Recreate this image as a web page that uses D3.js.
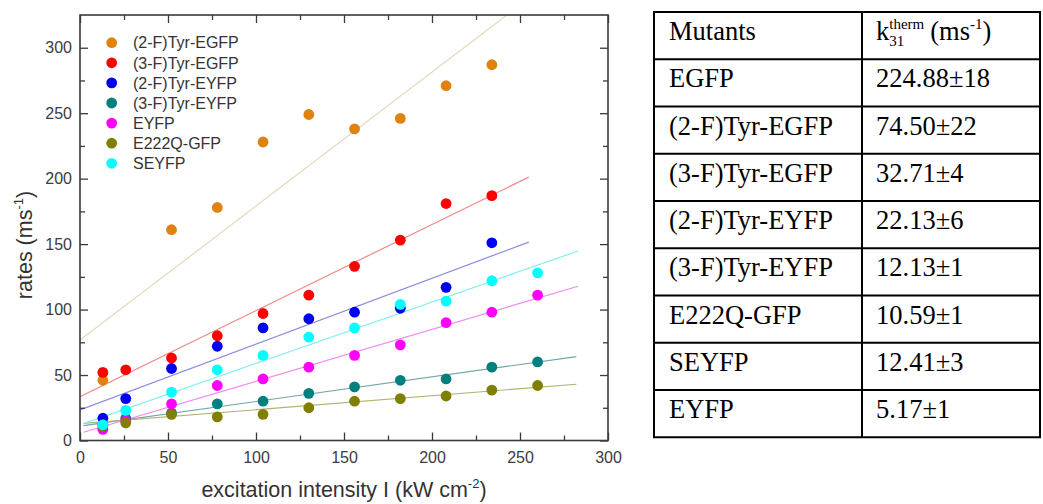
<!DOCTYPE html>
<html><head><meta charset="utf-8">
<script src="https://cdn.jsdelivr.net/npm/d3@7"></script>
<style>body{margin:0;background:#fff} svg{display:block}</style>
</head><body><svg id="c" width="1043" height="504"></svg>
<script>
// ---------- data ----------
const xValues = [13, 26, 52, 78, 104, 130, 156, 182, 208, 234, 260];
const seriesNames = ["(2-F)Tyr-EGFP", "(3-F)Tyr-EGFP", "(2-F)Tyr-EYFP", "(3-F)Tyr-EYFP", "EYFP", "E222Q-GFP", "SEYFP"];
const tyr2EGFP = [46, null, 161, 178, 228, 249, 238, 246, 271, 287, null];
const tyr3EGFP = [52, 54, 63, 80, 97, 111, 133, 153, 181, 187, null];
const tyr2EYFP = [17, 32, 55, 72, 86, 93, 98, 101, 117, 151, null];
const tyr3EYFP = [12, 17, 21, 28, 30, 36, 41, 46, 47, 56, 60];
const eyfp     = [8.5, 15, 28, 42, 47, 56, 65, 73, 90, 98, 111];
const e222q    = [11, 13.5, 20, 18, 20, 25, 30, 32, 34, 38.5, 42];
const seyfp    = [12, 23, 37, 54, 65, 79, 86, 104, 106.5, 122, 128];
const seriesValues = [tyr2EGFP, tyr3EGFP, tyr2EYFP, tyr3EYFP, eyfp, e222q, seyfp];
// linear fits (intercept, slope, x-range)
const fitIntercept = [76.7, 33.4, 23.3, 11, 5.5, 12.8, 12];
const fitSlope     = [1.0235, 0.658, 0.503, 0.188, 0.397, 0.107, 0.469];
const fitStart     = [0, 0, 0, 2, 2, 2, 2];
const fitEnd       = [255, 255, 255, 282, 283, 282, 283];
const xTicks = [0, 50, 100, 150, 200, 250, 300];
const xMinor = [25, 75, 125, 175, 225, 275];
const yTicks = [0, 50, 100, 150, 200, 250, 300];
const yMinor = [25, 75, 125, 175, 225, 275];
// table
const tableHeader = ["Mutants", "k31therm"];
const mutants = ["EGFP", "(2-F)Tyr-EGFP", "(3-F)Tyr-EGFP", "(2-F)Tyr-EYFP", "(3-F)Tyr-EYFP", "E222Q-GFP", "SEYFP", "EYFP"];
const k31 = ["224.88±18", "74.50±22", "32.71±4", "22.13±6", "12.13±1", "10.59±1", "12.41±3", "5.17±1"];

// ---------- style ----------
const pointColors = ["#e0820f", "#ff0000", "#0000f2", "#007f7f", "#ff00ff", "#7f7f00", "#00ffff"];
const lineColors  = ["#ead6bc", "#f08a8a", "#8a8ae2", "#72a6a6", "#f08af0", "#b2b272", "#84eef2"];

const svg = d3.select("#c");
const W = 1043, H = 504;
svg.append("rect").attr("width", W).attr("height", H).attr("fill", "#fff");

const L = 80, R = 608, T = 15, B = 440.5;
const x = d3.scaleLinear().domain([0, 300]).range([L, R]);
const y = d3.scaleLinear().domain([0, 325]).range([B, T]);

svg.append("clipPath").attr("id", "clip").append("rect")
  .attr("x", L).attr("y", T).attr("width", R - L).attr("height", B - T);

// fit lines
const plot = svg.append("g").attr("clip-path", "url(#clip)");
seriesNames.forEach((n, i) => {
  plot.append("line")
    .attr("x1", x(fitStart[i])).attr("y1", y(fitIntercept[i] + fitSlope[i] * fitStart[i]))
    .attr("x2", x(fitEnd[i])).attr("y2", y(fitIntercept[i] + fitSlope[i] * fitEnd[i]))
    .attr("stroke", lineColors[i]).attr("stroke-width", 1.2);
});
// points
seriesNames.forEach((n, i) => {
  const pts = xValues.map((xv, j) => ({x: xv, y: seriesValues[i][j]})).filter(d => d.y != null);
  svg.append("g").selectAll("circle").data(pts).join("circle")
    .attr("cx", d => x(d.x)).attr("cy", d => y(d.y)).attr("r", 5.4)
    .attr("fill", pointColors[i]);
});

// axes
const axColor = "#3a3a3a";
function style(g) {
  g.select(".domain").remove();
  g.selectAll("line").attr("stroke", axColor).attr("stroke-width", 1.3);
  g.selectAll("text").attr("fill", "#3c3c3c").attr("font-family", "Liberation Sans, Arial, sans-serif").attr("font-size", 16);
}
svg.append("g").attr("transform", `translate(0,${B})`)
  .call(d3.axisBottom(x).tickValues(xTicks).tickSizeInner(-8).tickSizeOuter(0).tickPadding(11)).call(style);
svg.append("g").attr("transform", `translate(0,${B})`)
  .call(d3.axisBottom(x).tickValues(xMinor).tickSizeInner(-5).tickSizeOuter(0).tickFormat("")).call(style);
svg.append("g").attr("transform", `translate(0,${T})`)
  .call(d3.axisTop(x).tickValues(xTicks).tickSizeInner(-8).tickSizeOuter(0).tickFormat("")).call(style);
svg.append("g").attr("transform", `translate(0,${T})`)
  .call(d3.axisTop(x).tickValues(xMinor).tickSizeInner(-5).tickSizeOuter(0).tickFormat("")).call(style);
svg.append("g").attr("transform", `translate(${L},0)`)
  .call(d3.axisLeft(y).tickValues(yTicks).tickSizeInner(-8).tickSizeOuter(0).tickPadding(8)).call(style);
svg.append("g").attr("transform", `translate(${L},0)`)
  .call(d3.axisLeft(y).tickValues(yMinor).tickSizeInner(-5).tickSizeOuter(0).tickFormat("")).call(style);
svg.append("g").attr("transform", `translate(${R},0)`)
  .call(d3.axisRight(y).tickValues(yTicks).tickSizeInner(-8).tickSizeOuter(0).tickFormat("")).call(style);
svg.append("g").attr("transform", `translate(${R},0)`)
  .call(d3.axisRight(y).tickValues(yMinor).tickSizeInner(-5).tickSizeOuter(0).tickFormat("")).call(style);

svg.append("rect").attr("x", L).attr("y", T).attr("width", R - L).attr("height", B - T)
  .attr("fill", "none").attr("stroke", axColor).attr("stroke-width", 1.6);

// axis titles
const sans = "Liberation Sans, Arial, sans-serif";
const xt = svg.append("text").attr("x", (L + R) / 2).attr("y", 497).attr("text-anchor", "middle")
  .attr("font-family", sans).attr("font-size", 21.5).attr("fill", "#333");
xt.append("tspan").text("excitation intensity I (kW cm");
xt.append("tspan").attr("dy", -9).attr("font-size", 13).text("-2");
xt.append("tspan").attr("dy", 9).text(")");

const yt = svg.append("text").attr("transform", "translate(32,245) rotate(-90)").attr("text-anchor", "middle")
  .attr("font-family", sans).attr("font-size", 21.5).attr("fill", "#333");
yt.append("tspan").text("rates (ms");
yt.append("tspan").attr("dy", -9).attr("font-size", 13).text("-1");
yt.append("tspan").attr("dy", 9).text(")");

// legend
const lg = svg.append("g");
seriesNames.forEach((n, i) => {
  const cy = 42.7 + i * 20.1;
  lg.append("circle").attr("cx", 111.7).attr("cy", cy).attr("r", 5.4).attr("fill", pointColors[i]);
  lg.append("text").attr("x", 133).attr("y", cy).attr("dy", "0.36em")
    .attr("font-family", sans).attr("font-size", 16).attr("fill", "#333").text(n);
});

// ---------- table ----------
const serif = "Liberation Serif, Times New Roman, serif";
const tx0 = 654, tx1 = 862, tx2 = 1040, ty0 = 12, rowH = 47.25;
const nRows = mutants.length + 1;
const tg = svg.append("g");
const rowsY = d3.range(nRows + 1).map(i => ty0 + i * rowH);
tg.selectAll("line.h").data(rowsY).join("line")
  .attr("x1", tx0 - 1).attr("x2", tx2 + 1).attr("y1", d => d).attr("y2", d => d)
  .attr("stroke", "#000").attr("stroke-width", 2);
tg.selectAll("line.v").data([tx0, tx1, tx2]).join("line")
  .attr("x1", d => d).attr("x2", d => d).attr("y1", ty0).attr("y2", rowsY[nRows])
  .attr("stroke", "#000").attr("stroke-width", 2);
const fs = 26.5;
function cell(txt, xx, yy) {
  return tg.append("text").attr("x", xx).attr("y", yy).attr("font-family", serif)
    .attr("font-size", fs).attr("fill", "#000").text(txt);
}
cell(tableHeader[0], 669, ty0 + 28);
// header k31^therm (ms^-1)
{
  const base = ty0 + 28;
  const k = cell("k", 876, base);
  const kw = k.node().getComputedTextLength();
  const sub = tg.append("text").attr("x", 876 + kw).attr("y", base + 6).attr("font-family", serif)
    .attr("font-size", 15).text(tableHeader[1].slice(1, 3));
  const sup = tg.append("text").attr("x", 876 + kw).attr("y", base - 11).attr("font-family", serif)
    .attr("font-size", 15).text(tableHeader[1].slice(3));
  const w2 = Math.max(sub.node().getComputedTextLength(), sup.node().getComputedTextLength());
  const x3 = 876 + kw + w2 + 6;
  const p = cell("(ms", x3, base);
  const pw = p.node().getComputedTextLength();
  const s1 = tg.append("text").attr("x", x3 + pw).attr("y", base - 11).attr("font-family", serif)
    .attr("font-size", 15).text("-1");
  cell(")", x3 + pw + s1.node().getComputedTextLength(), base);
}
mutants.forEach((m, i) => {
  const base = ty0 + (i + 1) * rowH + 28;
  cell(m, 669, base);
  cell(k31[i], 876, base);
});
</script></body></html>
